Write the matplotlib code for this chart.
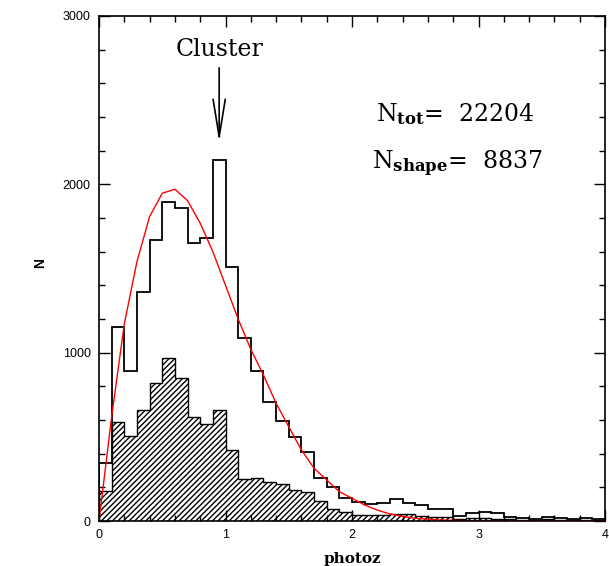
"""Photo-z histogram: all galaxies vs shape-selected sample, with fitted N(z)."""

import numpy as np
import matplotlib.pyplot as plt
from matplotlib.ticker import MultipleLocator

plt.rcParams.update({
    "font.family": "Liberation Sans",
    "mathtext.fontset": "dejavuserif",
    "axes.linewidth": 1.2,
    "hatch.linewidth": 1.0,
})

# bin edges 0.0 .. 4.0 in steps of 0.1
edges = np.round(np.arange(0, 4.01, 0.1), 2)

# all galaxies (open histogram)
n_tot = [343, 1155, 893, 1363, 1670, 1897, 1862, 1650, 1680, 2145,
         1511, 1085, 893, 705, 596, 497, 412, 253, 200, 135,
         111, 102, 104, 133, 105, 95, 73, 73, 32, 46,
         51, 46, 26, 16, 14, 22, 20, 14, 20, 10]

# galaxies with shape measurement (hatched histogram)
n_shape = [178, 590, 505, 660, 818, 970, 852, 620, 575, 660,
           424, 250, 253, 234, 220, 184, 174, 121, 69, 55,
           36, 33, 36, 40, 40, 30, 22, 22, 10, 16,
           16, 14, 10, 8, 8, 10, 8, 6, 8, 5]

# smooth N(z) model (red curve), read at 0.1 steps
z_fit = [0.0, 0.1, 0.2, 0.3, 0.4, 0.5, 0.6, 0.7, 0.8, 0.9,
         1.0, 1.1, 1.2, 1.3, 1.4, 1.5, 1.6, 1.7, 1.8, 1.9,
         2.0, 2.1, 2.2, 2.3, 2.4, 2.5, 2.6, 2.7, 2.8, 2.9,
         3.0, 3.5, 4.0]
n_fit = [0, 620, 1170, 1541, 1808, 1947, 1971, 1903, 1769, 1600,
         1400, 1200, 1020, 867, 699, 560, 422, 313, 244, 174,
         135, 95, 65, 42, 27, 16, 10, 6, 4, 2,
         1, 0, 0]

fig = plt.figure(figsize=(6.09, 5.66), dpi=100)
ax = fig.add_axes([99 / 609, 1 - 521 / 566, 506 / 609, 505 / 566])

ax.stairs(n_shape, edges, fill=True, facecolor="none", edgecolor="black",
          hatch="//////", linewidth=1.0)
ax.stairs(n_tot, edges, color="black", linewidth=1.3)
ax.plot(z_fit, n_fit, color="red", linewidth=1.0)

ax.set_xlim(0, 4)
ax.set_ylim(0, 3000)
ax.xaxis.set_major_locator(MultipleLocator(1))
ax.xaxis.set_minor_locator(MultipleLocator(0.2))
ax.yaxis.set_major_locator(MultipleLocator(1000))
ax.yaxis.set_minor_locator(MultipleLocator(200))
ax.tick_params(which="both", direction="in", top=True, right=True,
               labelsize=9, width=1.0)
ax.tick_params(which="major", length=8, pad=6)
ax.tick_params(which="minor", length=4)

ax.set_xlabel("photoz", fontsize=11, fontweight="bold", family="DejaVu Serif")
ax.set_ylabel("N", fontsize=10, fontweight="bold")
ax.xaxis.set_label_coords(0.5, -0.062)
ax.yaxis.set_label_coords(-0.103, 0.51)

# cluster marker
ax.annotate("", xy=(0.95, 2252), xytext=(0.95, 2692),
            arrowprops=dict(arrowstyle="->,head_length=1.35,head_width=0.22",
                            mutation_scale=20, color="black", linewidth=1.2,
                            shrinkA=0, shrinkB=0))
ax.text(0.95, 2763, "Cluster", ha="center", va="baseline",
        fontsize=17, family="DejaVu Serif")

ax.text(2.19, 2378, r"N$_{\mathbf{tot}}$=  22204", ha="left", va="baseline",
        fontsize=17, family="DejaVu Serif")
ax.text(2.16, 2090, r"N$_{\mathbf{shape}}$=  8837", ha="left", va="baseline",
        fontsize=17, family="DejaVu Serif")

fig.savefig("out.png", dpi=100, facecolor="white")
